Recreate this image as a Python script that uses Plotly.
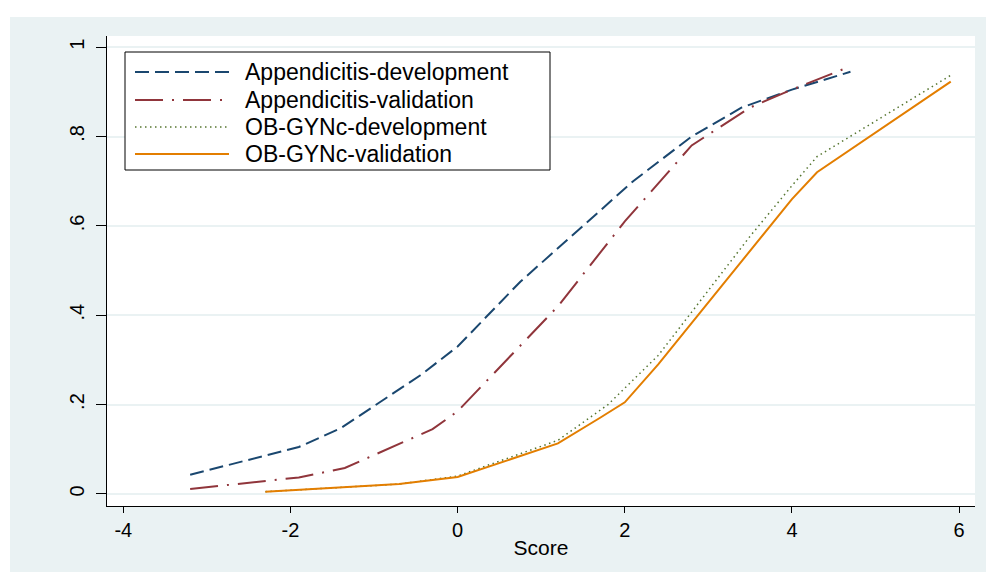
import plotly.graph_objects as go

# ---- data ----
app_dev_x = [-3.2, -1.9, -1.4, -0.45, 0.0, 0.75, 1.5, 2.1, 2.8, 3.4, 4.0, 4.7]
app_dev_y = [0.043, 0.105, 0.147, 0.265, 0.33, 0.475, 0.60, 0.70, 0.80, 0.865, 0.905, 0.945]

app_val_x = [-3.2, -1.9, -1.35, -0.3, 0.0, 1.2, 2.0, 2.8, 3.5, 4.0, 4.7]
app_val_y = [0.011, 0.037, 0.058, 0.145, 0.185, 0.42, 0.61, 0.78, 0.865, 0.905, 0.957]

ob_dev_x = [-2.3, -0.7, 0.0, 1.2, 1.8, 2.4, 3.5, 4.0, 4.3, 5.9]
ob_dev_y = [0.005, 0.022, 0.04, 0.12, 0.20, 0.31, 0.577, 0.69, 0.755, 0.937]

ob_val_x = [-2.3, -0.7, 0.0, 1.2, 1.7, 2.0, 2.4, 4.0, 4.3, 5.9]
ob_val_y = [0.005, 0.022, 0.038, 0.113, 0.17, 0.205, 0.29, 0.66, 0.72, 0.923]

series_names = ["Appendicitis-development", "Appendicitis-validation",
                "OB-GYNc-development", "OB-GYNc-validation"]

x_ticks = [-4, -2, 0, 2, 4, 6]
y_ticks = [0, 0.2, 0.4, 0.6, 0.8, 1]
y_tick_text = ["0", ".2", ".4", ".6", ".8", "1"]

# ---- styles ----
FONT = "Liberation Sans, Arial, sans-serif"
BG = "#EAF2F3"
W, H = 986, 572
ML, MR, MT, MB = 107, 11, 36, 66
PW, PH = W - ML - MR, H - MT - MB

styles = [
    dict(color="#1a476f", width=2, dash="14px,6px"),
    dict(color="#90353b", width=2, dash="28px,9px,2px,9px"),
    dict(color="#55752f", width=1.5, dash="1.5px,3.5px"),
    dict(color="#e37e00", width=2),
]

def xp(px):
    return (px - ML) / PW

def yp(py):
    return (H - MB - py) / PH

fig = go.Figure()
for xs, ys, nm, st in zip([app_dev_x, app_val_x, ob_dev_x, ob_val_x],
                          [app_dev_y, app_val_y, ob_dev_y, ob_val_y],
                          series_names, styles):
    fig.add_trace(go.Scatter(x=xs, y=ys, mode="lines", name=nm,
                             line=st, showlegend=False, hoverinfo="x+y+name"))

shapes = []
annotations = []
# white strips outside the graph region (top & left)
shapes.append(dict(type="rect", xref="paper", yref="paper", layer="above",
                   x0=xp(0), x1=xp(W), y0=yp(17), y1=yp(0),
                   fillcolor="white", line=dict(width=0)))
shapes.append(dict(type="rect", xref="paper", yref="paper", layer="above",
                   x0=xp(0), x1=xp(10), y0=yp(H), y1=yp(0),
                   fillcolor="white", line=dict(width=0)))

# legend box
shapes.append(dict(type="rect", xref="paper", yref="paper", layer="above",
                   x0=xp(125), x1=xp(550), y0=yp(170), y1=yp(52),
                   fillcolor="white", line=dict(color="black", width=1)))
rows = [72, 100, 127, 154]
for r, nm, st in zip(rows, series_names, styles):
    ln = dict(color=st["color"], width=st["width"])
    if "dash" in st:
        ln["dash"] = st["dash"]
    shapes.append(dict(type="line", xref="paper", yref="paper", layer="above",
                       x0=xp(135), x1=xp(229), y0=yp(r), y1=yp(r), line=ln))
    annotations.append(dict(xref="paper", yref="paper", x=xp(243), y=yp(r),
                            text=nm, showarrow=False, xanchor="left",
                            yanchor="middle",
                            font=dict(family=FONT, size=23, color="black")))

fig.update_layout(
    width=W, height=H,
    margin=dict(l=ML, r=MR, t=MT, b=MB, pad=0),
    paper_bgcolor=BG, plot_bgcolor="white",
    font=dict(family=FONT, color="black"),
    shapes=shapes, annotations=annotations,
    showlegend=False,
    xaxis=dict(range=[-4.195, 6.19], tickvals=x_ticks, ticktext=[str(v) for v in x_ticks],
               showgrid=False, zeroline=False, showline=True, linecolor="black",
               linewidth=1, ticks="outside", ticklen=6, tickcolor="black",
               tickfont=dict(size=20, family=FONT),
               title=dict(text="Score", font=dict(size=21, family=FONT), standoff=0)),
    yaxis=dict(range=[-0.027, 1.025], tickvals=y_ticks, ticktext=y_tick_text,
               showgrid=True, gridcolor=BG, gridwidth=1.5, zeroline=False,
               showline=True, linecolor="black", linewidth=1,
               ticks="outside", ticklen=10, tickcolor="black", tickangle=-90,
               ticklabelstandoff=4,
               tickfont=dict(size=20, family=FONT)),
)

fig.write_html("out.html", config={"displayModeBar": False},
               post_script="document.body.style.margin='0px';document.body.style.padding='0px';")
